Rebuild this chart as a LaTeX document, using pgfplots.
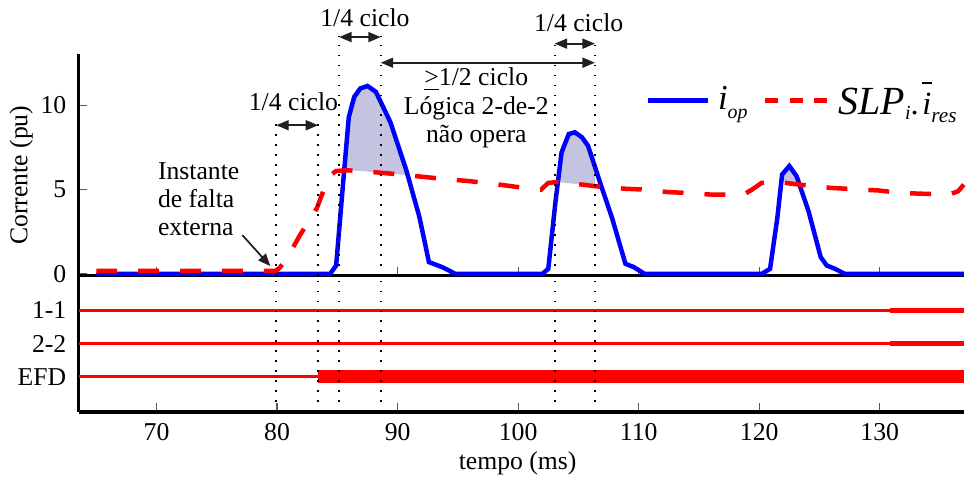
\documentclass[border=0pt]{standalone}
\usepackage{fontspec}
\setmainfont{Liberation Serif}
\usepackage{pgfplots}
\usepackage{pgfplotstable}
\pgfplotsset{compat=1.18}
\usepgfplotslibrary{fillbetween}
\usetikzlibrary{arrows.meta}

\definecolor{lav}{RGB}{196,196,224}
\definecolor{arr}{RGB}{35,31,32}

\pgfplotstableread{
t y
65 0
84.4 0
84.9 0.5
85.55 6.0
85.95 9.3
86.4 10.5
86.9 11.0
87.5 11.15
88.2 10.8
89.4 9.0
90.7 6.2
91.8 3.4
92.6 0.7
93.7 0.4
94.8 0
102.0 0
102.5 0.3
103.1 4.3
103.6 7.2
104.2 8.3
104.7 8.4
105.3 8.1
105.8 7.6
106.9 5.2
107.8 3.3
108.9 0.6
109.6 0.4
110.5 0
120.2 0
120.9 0.3
121.5 3.3
121.9 5.9
122.5 6.4
123.1 5.8
124.1 3.7
125.1 1.0
125.6 0.5
126.3 0.3
127.1 0
136.97 0
}\iop

\pgfplotstableread{
t y
65 0.18
79.9 0.18
80.2 0.35
80.8 0.9
81.9 2.3
83.3 3.9
84.3 5.8
84.9 6.1
85.7 6.15
87.0 6.1
88.6 6.0
90.2 5.9
92.9 5.7
96.0 5.5
98.4 5.3
100.0 5.15
101.9 5.0
102.5 5.4
103.3 5.45
105.3 5.3
106.4 5.2
108.9 5.05
110.5 5.0
112.5 4.85
114.1 4.8
116.1 4.7
117.7 4.7
118.8 4.75
119.4 5.0
120.2 5.4
121.6 5.45
123.3 5.3
126.0 5.1
128.5 5.0
129.9 4.95
131.8 4.8
133.8 4.75
135.9 4.75
136.5 4.9
136.97 5.3
}\slp

\pgfplotsset{
  myax/.style={
    scale only axis, width=354.9pt, anchor=south west,
    xmin=63.53, xmax=136.97,
    axis x line*=bottom, axis y line*=left,
    axis line style={-, line width=1.5pt, black},
    tick align=inside, xtick={70,80,...,130},
    major tick length=3.5pt,
    tick style={black!65, line width=0.5pt},
    /pgf/number format/assume math mode=true,
    yticklabel style={xshift=-1.4pt},
  },
}
\tikzset{
  dotl/.style={black, line width=0.7pt, dash pattern=on 0.6pt off 3.4pt},
  darr/.style={arr, line width=0.7pt, {Triangle[length=5pt,width=4pt]}-{Triangle[length=5pt,width=4pt]}},
}

\begin{document}
\begin{tikzpicture}[font=\fontsize{10.3}{12.4}\selectfont]
\path (0,0) rectangle (386.4pt,192.4pt);

% ---------------- top axis ----------------
\begin{axis}[myax, at={(31.5pt,83pt)}, height=89pt,
  ymin=-0.1, ymax=13.07, ytick={0,5,10},
  xticklabels={}, clip=false,
  ylabel={Corrente (pu)},
  ylabel style={at={(axis description cs:-0.0649,0.452)}, anchor=center},
  legend style={at={(axis description cs:0.6311,0.79)}, anchor=west, draw=none, fill=none,
    legend columns=2, column sep=0pt, nodes={inner sep=0pt}},
  legend cell align=left,
]
\addplot[draw=none, name path=A, forget plot] table {\iop};
\addplot[draw=none, name path=B, forget plot] table {\slp};
\addplot[lav, forget plot] fill between[of=A and B, soft clip={domain=85.57:90.84}];
\addplot[lav, forget plot] fill between[of=A and B, soft clip={domain=103.3:106.37}];
\addplot[lav, forget plot] fill between[of=A and B, soft clip={domain=121.85:123.2}];

\addplot[blue, line width=1.8pt,
  legend image code/.code={\draw[blue, line width=2pt] (0pt,0pt) -- (24pt,0pt);}] table {\iop};
\addlegendentry{\hspace{3.2pt}{\fontsize{14}{14}\selectfont\itshape i}\raisebox{-3.3pt}{\fontsize{8}{8}\selectfont\itshape op}\hspace{6pt}\mbox{}}
\addplot[red, line width=1.8pt, dash pattern=on 8.4pt off 8.4pt,
  legend image code/.code={\draw[red, line width=2pt, dash pattern=on 5.2pt off 4.6pt] (0pt,0pt) -- (24.8pt,0pt);}] table {\slp};
\addlegendentry{\hspace{3.6pt}{\fontsize{16}{16}\selectfont\itshape SLP}\raisebox{-2pt}{\fontsize{8}{8}\selectfont\itshape i}{\fontsize{13}{13}\selectfont .}\hspace{1.5pt}\makebox[0pt][l]{\rule[12.4pt]{4pt}{0.6pt}}{\fontsize{13}{13}\selectfont\itshape i}\raisebox{-3.2pt}{\fontsize{8.5}{8.5}\selectfont\itshape res}}

% dotted guide lines
\draw[dotl] (axis cs:79.93,-0.1) -- (axis cs:79.93,8.92);
\draw[dotl] (axis cs:83.41,-0.1) -- (axis cs:83.41,8.92);
\draw[dotl] (axis cs:85.15,-0.1) -- (axis cs:85.15,14.13);
\draw[dotl] (axis cs:88.60,-0.1) -- (axis cs:88.60,14.13);
\draw[dotl] (axis cs:103.03,-0.1) -- (axis cs:103.03,13.72);
\draw[dotl] (axis cs:106.37,-0.1) -- (axis cs:106.37,13.72);

% arrows
\draw[darr] (axis cs:85.15,14.05) -- (axis cs:88.60,14.05);
\draw[darr] (axis cs:79.93,8.82) -- (axis cs:83.41,8.82);
\draw[darr] (axis cs:103.03,13.66) -- (axis cs:106.37,13.66);
\draw[darr] (axis cs:88.60,12.53) -- (axis cs:106.37,12.53);
\draw[arr, line width=0.7pt, -{Triangle[length=5pt,width=4pt]}] (axis cs:77.12,2.30) -- (axis cs:79.44,0.46);

% texts
\node[anchor=base] at (axis cs:87.29,14.70) {1/4 ciclo};
\node[anchor=base] at (axis cs:81.36,9.67) {1/4 ciclo};
\node[anchor=base] at (axis cs:105.02,14.41) {1/4 ciclo};
\node[anchor=base] at (axis cs:96.53,11.15) {\underline{>}1/2 ciclo};
\node[anchor=base] at (axis cs:96.53,9.47) {Lógica 2-de-2};
\node[anchor=base] at (axis cs:96.53,7.80) {não opera};
\node[anchor=base west, inner sep=0pt] at (axis cs:70.08,5.63) {Instante};
\node[anchor=base west, inner sep=0pt] at (axis cs:70.08,3.95) {de falta};
\node[anchor=base west, inner sep=0pt] at (axis cs:70.08,2.28) {externa};
\end{axis}

% ---------------- bottom axis ----------------
\begin{axis}[myax, at={(31.5pt,28.4pt)}, height=54.6pt,
  ymin=-0.05, ymax=4.04, ytick={1,2,3}, yticklabels={EFD,2-2,1-1},
  ytick style={draw=none},
  xticklabel style={yshift=-1.2pt},
  xlabel={tempo (ms)},
  xlabel style={at={(axis description cs:0.496,-0.425)}, anchor=base},
]
\addplot[red, line width=1.3pt] coordinates {(63.53,3) (130.85,3)};
\addplot[red, line width=2pt] coordinates {(130.85,3) (136.97,3)};
\addplot[red, line width=1.3pt] coordinates {(63.53,2) (130.85,2)};
\addplot[red, line width=2pt] coordinates {(130.85,2) (136.97,2)};
\addplot[red, line width=1.3pt] coordinates {(63.53,1) (83.41,1)};
\addplot[red, line width=5.3pt] coordinates {(83.41,1) (136.97,1)};

\draw[dotl] (axis cs:79.93,-0.05) -- (axis cs:79.93,4.04);
\draw[dotl] (axis cs:83.41,-0.05) -- (axis cs:83.41,4.04);
\draw[dotl] (axis cs:85.15,-0.05) -- (axis cs:85.15,4.04);
\draw[dotl] (axis cs:88.60,-0.05) -- (axis cs:88.60,4.04);
\draw[dotl] (axis cs:103.03,-0.05) -- (axis cs:103.03,4.04);
\draw[dotl] (axis cs:106.37,-0.05) -- (axis cs:106.37,4.04);
\end{axis}
\end{tikzpicture}
\end{document}
